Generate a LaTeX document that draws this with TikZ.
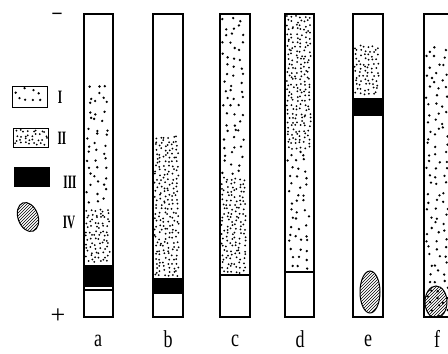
\documentclass[tikz,border=0pt]{standalone}
\usepackage{fontspec}
\setmainfont{Liberation Serif}
\usetikzlibrary{patterns}
\newcommand\stipple[6]{%
 \pgfmathsetmacro\xa{#1+#5/2}\pgfmathsetmacro\xb{#1+1.5*#5}\pgfmathsetmacro\xe{#3-#5/3}%
 \pgfmathsetmacro\ya{#2+#5/2}\pgfmathsetmacro\yb{#2+1.5*#5}\pgfmathsetmacro\ye{#4-#5/3}%
 \foreach \x in {\xa,\xb,...,\xe}{\foreach \y in {\ya,\yb,...,\ye}{%
   \fill ({\x+rand*#5*0.38},{\y+rand*#5*0.38}) circle (#6);}}}
\newcommand\tall[1]{\scalebox{1}[1.35]{#1}}
\newcommand\narrow[1]{\scalebox{0.8}[1.35]{#1}}
\tikzset{tube/.style={draw,line width=1.5pt},
 part/.style={line width=1.1pt},
 band/.style={fill=black},
 hatch/.style={draw,line width=1pt,pattern=north east lines},
 lab/.style={font=\fontsize{18}{20}\selectfont,inner sep=0pt},
 leg/.style={font=\fontsize{14}{16}\selectfont\bfseries,inner sep=0pt}}
\begin{document}
\begin{tikzpicture}[x=1pt,y=-1pt]
\useasboundingbox (0,0) rectangle (448,354);
\pgfmathsetseed{7}
% tube a
\stipple{85}{84}{112}{208}{8}{1.3pt}
\stipple{85}{208}{112}{265}{4.2}{1pt}
\fill[band] (84,265) rectangle (113,287);
\draw[part] (84,290) -- (113,290);
\draw[tube] (84,14) rectangle (113,317);
% tube b
\stipple{154}{135}{182}{278}{4.2}{1pt}
\fill[band] (153,278) rectangle (183,293);
\draw[part] (153,293) -- (183,293);
\draw[tube] (153,14) rectangle (183,317);
% tube c
\stipple{221}{15}{249}{177}{8}{1.3pt}
\stipple{221}{177}{249}{275}{4.2}{1pt}
\draw[part] (220,275) -- (250,275);
\draw[tube] (220,14) rectangle (250,317);
% tube d
\stipple{286}{15}{313}{150}{4.2}{1pt}
\stipple{286}{150}{313}{272}{8}{1.3pt}
\draw[part] (285,272) -- (314,272);
\draw[tube] (285,14) rectangle (314,317);
% tube e
\stipple{354}{45}{382}{98}{4.2}{1pt}
\fill[band] (353,98) rectangle (383,116);
\draw[hatch] (370,292) ellipse [x radius=10, y radius=21];
\draw[tube] (353,14) rectangle (383,317);
% tube f
\stipple{425}{45}{448}{317}{8}{1.3pt}
\begin{scope}
\clip (424,14) rectangle (455,317);
\draw[hatch] (436,302) ellipse [x radius=11, y radius=16];
\end{scope}
\draw[tube] (424,14) rectangle (456,317);
% legend
\draw[line width=0.9pt] (12,86) rectangle (47,107);
\stipple{13}{87}{46}{106}{8}{1.3pt}
\node[leg] (lI) at (60,97) {\narrow{I}};
\draw[line width=0.9pt] (13,128) rectangle (48,147);
\stipple{14}{129}{47}{146}{4.2}{1pt}
\node[leg] (lII) at (62,138) {\narrow{II}};
\fill[band] (14,167) rectangle (50,187);
\node[leg] (lIII) at (70,182) {\narrow{III}};
\draw[hatch,rotate around={20:(28,217)}] (28,217) ellipse [x radius=10, y radius=15];
\node[leg] (lIV) at (69,222) {\narrow{IV}};
% signs
\node[font=\fontsize{20}{22}\selectfont\bfseries,inner sep=0pt,anchor=base] (minus) at (57,20) {−};
\node[font=\fontsize{26}{28}\selectfont,inner sep=0pt] (plus) at (58,316) {+};
% letters
\node[lab] (la) at (98,341) {\tall{a}};
\node[lab] (lb) at (168,339) {\tall{b}};
\node[lab] (lc) at (235,341) {\tall{c}};
\node[lab] (ld) at (300,339) {\tall{d}};
\node[lab] (le) at (368,341) {\tall{e}};
\node[lab] (lf) at (437,339) {\tall{f}};
\end{tikzpicture}
\end{document}
